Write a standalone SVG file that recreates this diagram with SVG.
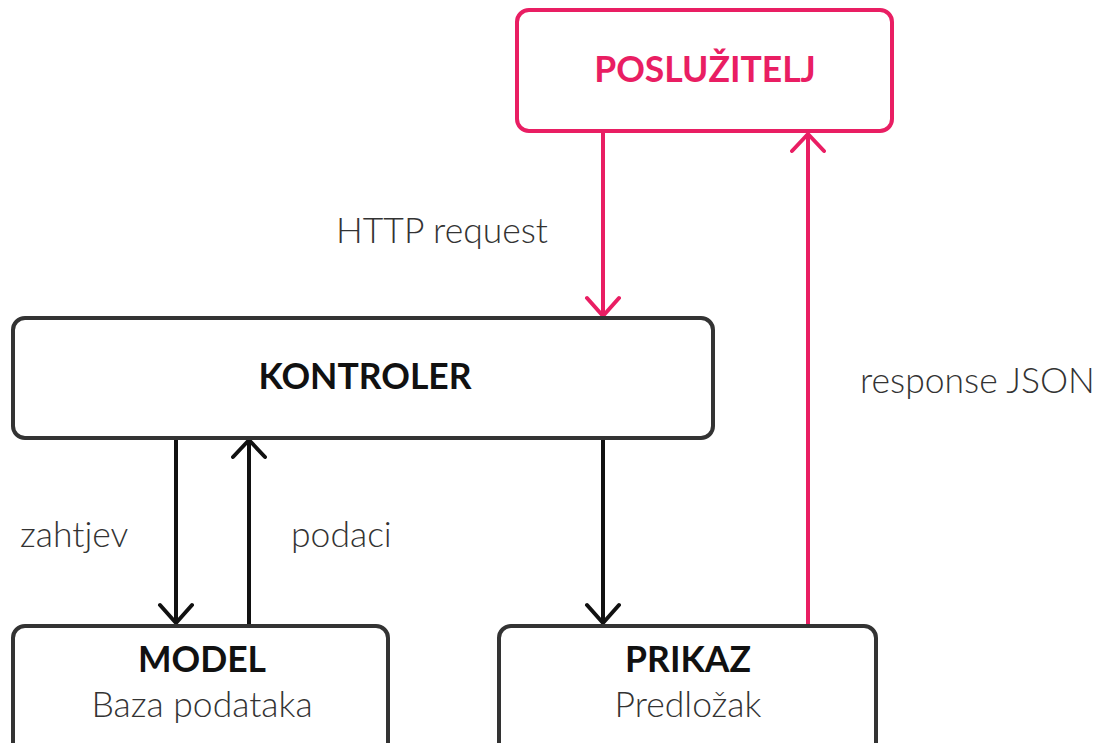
<svg xmlns="http://www.w3.org/2000/svg" width="1098" height="743" viewBox="0 0 1098 743">
<style>
.box{fill:#fff;stroke:#333;stroke-width:4}
.pbox{fill:#fff;stroke:#E91E63;stroke-width:4}
.title{font-family:Lato,"Noto Sans",sans-serif;font-weight:700;font-size:35.5px;fill:#111;text-anchor:middle}
.ptitle{font-family:Lato,"Noto Sans",sans-serif;font-weight:700;font-size:35.5px;fill:#E91E63;text-anchor:middle}
.sub{font-family:Lato,"Noto Sans",sans-serif;font-weight:300;font-size:35.5px;fill:#333;text-anchor:middle}
.lbl{font-family:Lato,"Noto Sans",sans-serif;font-weight:300;font-size:35.5px;fill:#333}
.k{stroke:#111;stroke-width:4;fill:none;stroke-linecap:round;stroke-linejoin:round}
.p{stroke:#E91E63;stroke-width:4;fill:none;stroke-linecap:round;stroke-linejoin:round}
</style>
<rect width="1098" height="743" fill="#fff"/>
<g id="connectors">
<path class="p" d="M603 132V316M587 298L603 316L619 298"/>
<path class="p" d="M808 625V134M792 151L808 134L824 151"/>
<path class="k" d="M176 438V623M160 605L176 623L192 605"/>
<path class="k" d="M249 625V440M233 457L249 440L265 457"/>
<path class="k" d="M603 438V623M587 605L603 623L619 605"/>
<text class="lbl" x="336" y="243">HTTP request</text>
<text class="lbl" x="860" y="393">response JSON</text>
<text class="lbl" x="20" y="547">zahtjev</text>
<text class="lbl" x="291" y="547">podaci</text>
</g>
<g id="posluzitelj">
<rect class="pbox" x="517" y="10" width="375" height="121" rx="12"/>
<text class="ptitle" x="705" y="82">POSLUŽITELJ</text>
</g>
<g id="kontroler">
<rect class="box" x="13" y="318" width="700" height="120" rx="12"/>
<text class="title" x="365" y="389">KONTROLER</text>
</g>
<g id="model">
<rect class="box" x="13" y="626" width="375" height="140" rx="12"/>
<text class="title" x="202" y="672">MODEL</text>
<text class="sub" x="202" y="717">Baza podataka</text>
</g>
<g id="prikaz">
<rect class="box" x="499" y="626" width="377" height="140" rx="12"/>
<text class="title" x="688" y="672">PRIKAZ</text>
<text class="sub" x="688" y="717">Predložak</text>
</g>
</svg>
